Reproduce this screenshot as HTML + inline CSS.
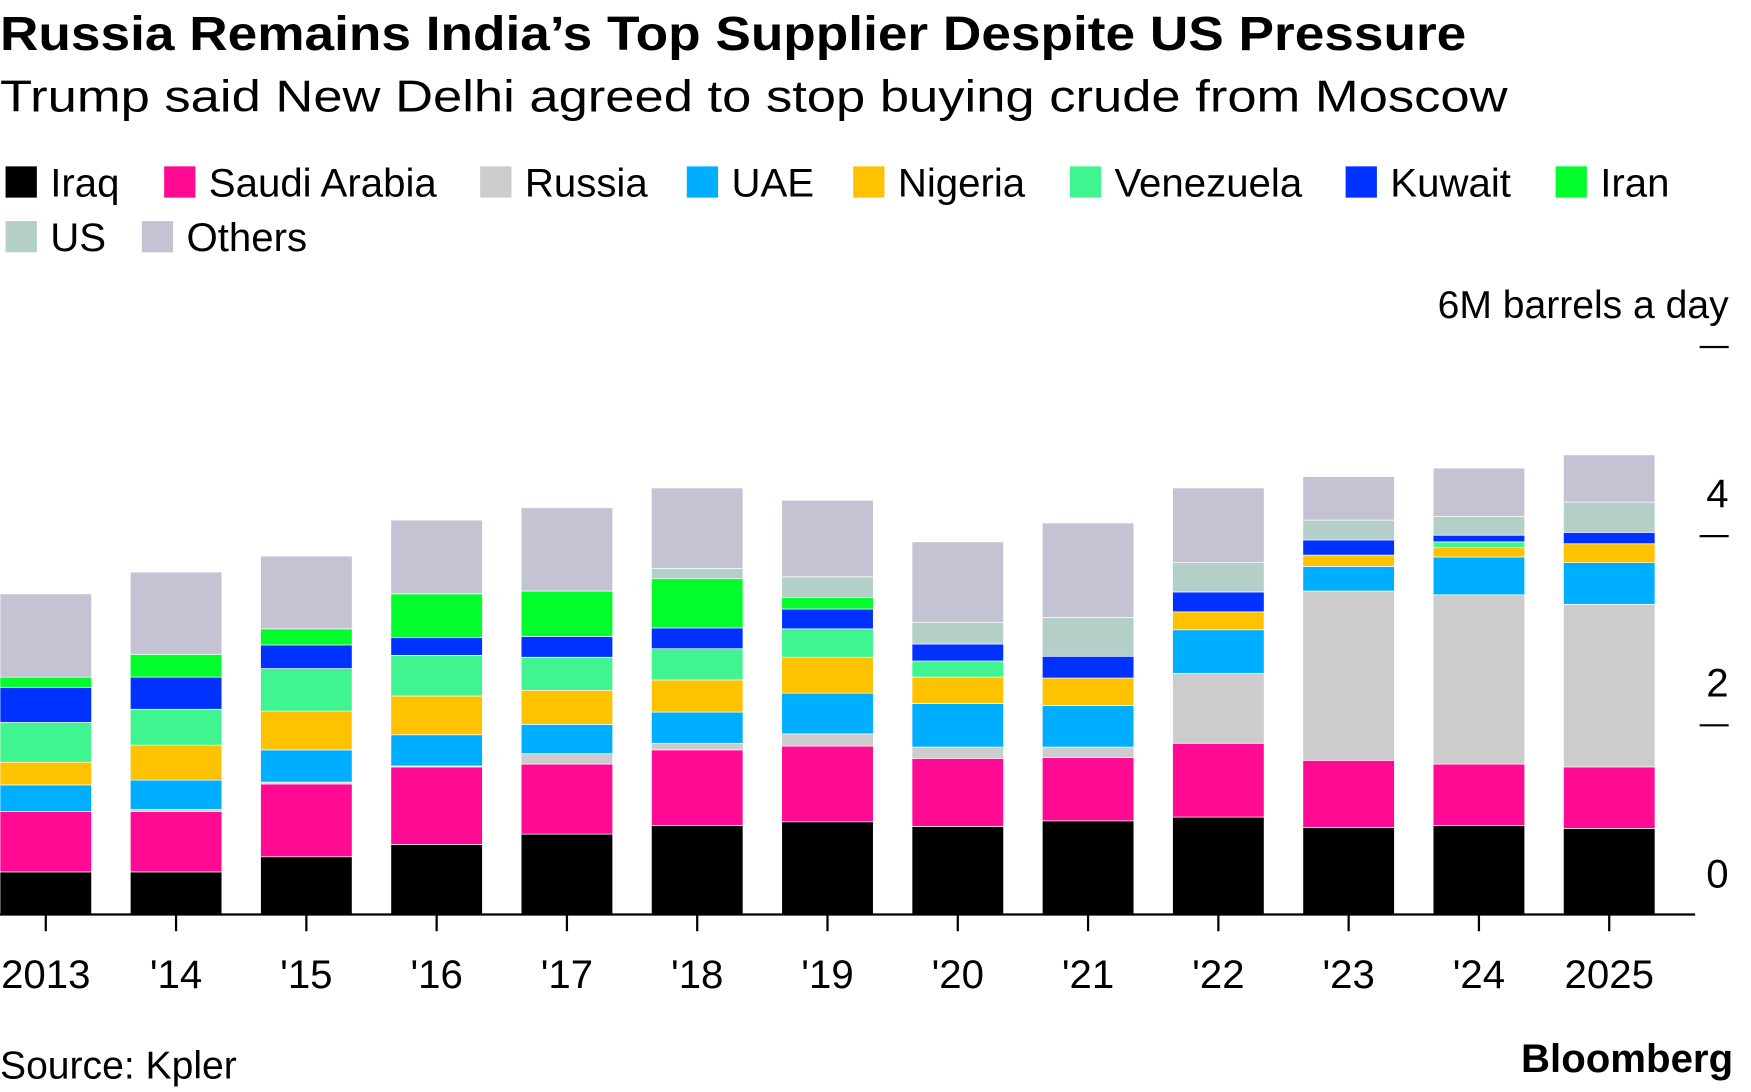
<!DOCTYPE html>
<html><head><meta charset="utf-8"><style>
html,body{margin:0;padding:0;background:#fff;}
svg{display:block;font-family:"Liberation Sans",Arial,sans-serif;}
</style></head><body>
<svg id="chart" width="1751" height="1092" viewBox="0 0 1568 978" preserveAspectRatio="none" xmlns="http://www.w3.org/2000/svg">
<text x="0" y="45" font-size="43" font-weight="bold" fill="#000" textLength="1313" lengthAdjust="spacingAndGlyphs">Russia Remains India’s Top Supplier Despite US Pressure</text>
<text x="0" y="100" font-size="40" fill="#000" textLength="1350" lengthAdjust="spacingAndGlyphs">Trump said New Delhi agreed to stop buying crude from Moscow</text>
<g id="legend"></g>
<text x="1548" y="285" font-size="35" text-anchor="end" fill="#000">6M barrels a day</text>
<g id="yaxis"></g>
<g id="bars"></g>
<g id="xaxis"></g>
<text x="0" y="966" font-size="35" fill="#000">Source: Kpler</text>
<text x="1552" y="960" font-size="36" font-weight="bold" text-anchor="end" fill="#000">Bloomberg</text>
</svg>
<script>
const categories = ["2013","'14","'15","'16","'17","'18","'19","'20","'21","'22","'23","'24","2025"];
const seriesNames = ["Iraq","Saudi Arabia","Russia","UAE","Nigeria","Venezuela","Kuwait","Iran","US","Others"];
const seriesColors = ["#000000","#ff0a93","#cccccc","#00aeff","#ffc200","#40f58f","#0032ff","#03fc2c","#b4cfc8","#c4c3d3"];
const iraq = [0.45,0.45,0.61,0.74,0.85,0.94,0.98,0.93,0.99,1.03,0.92,0.94,0.91];
const saudi = [0.64,0.64,0.77,0.82,0.74,0.80,0.80,0.72,0.67,0.78,0.71,0.65,0.65];
const russia = [0,0.02,0.02,0.01,0.11,0.07,0.13,0.12,0.11,0.74,1.79,1.79,1.72];
const uae = [0.28,0.31,0.34,0.33,0.31,0.33,0.43,0.46,0.44,0.46,0.26,0.40,0.44];
const nigeria = [0.24,0.37,0.41,0.41,0.36,0.34,0.38,0.28,0.29,0.19,0.12,0.10,0.20];
const venezuela = [0.42,0.38,0.45,0.43,0.35,0.33,0.30,0.17,0,0,0,0.06,0];
const kuwait = [0.37,0.34,0.25,0.19,0.22,0.22,0.21,0.18,0.23,0.21,0.16,0.07,0.12];
const iran = [0.11,0.24,0.17,0.46,0.48,0.52,0.12,0,0,0,0,0,0];
const us = [0,0,0,0,0,0.11,0.22,0.23,0.41,0.31,0.21,0.20,0.32];
const others = [0.88,0.87,0.77,0.78,0.88,0.85,0.81,0.85,1.00,0.79,0.46,0.51,0.50];
const yTicks = [0,2,4,6];
const yTickLabels = ["0","2","4",""];

const NS = "http://www.w3.org/2000/svg";
const series = [iraq,saudi,russia,uae,nigeria,venezuela,kuwait,iran,us,others];
const y = v => 819 - v * 84.7;
const xc = i => 41 + i * 116.67;
const barW = 82;
function mk(tag, attrs, parent){const e=document.createElementNS(NS,tag);for(const k in attrs)e.setAttribute(k,attrs[k]);parent.appendChild(e);return e;}

const legend = document.getElementById('legend');
const legPos = [[5,163],[147,163],[430,163],[615,163],[764,163],[958,163],[1205,163],[1393,163],[5,212],[127,212]];
seriesNames.forEach((n,i)=>{
  const g = mk('g',{},legend);
  
  
  const [lx,ly]=legPos[i];
  mk('rect',{x:lx,y:ly-14,width:28,height:28,fill:seriesColors[i]},g);
  const t = mk('text',{x:lx+40,y:ly+13,'font-size':36,fill:'#000'},g);
  t.textContent = n;
});

const ya = document.getElementById('yaxis');
yTicks.forEach((v,i)=>{
  if(v===0) return;
  const l = mk('line',{x1:1522,x2:1548,y1:y(v),y2:y(v),stroke:'#000','stroke-width':2},ya);
  
  
  if(yTickLabels[i]){
    const t = mk('text',{x:1548,y:y(v)-26,'font-size':36,'text-anchor':'end',fill:'#000'},ya);
    
    
    t.textContent = yTickLabels[i];
  }
});
const zl = mk('text',{x:1548,y:y(0)-24,'font-size':36,'text-anchor':'end',fill:'#000'},ya);


zl.textContent = yTickLabels[0];

const bars = document.getElementById('bars');
categories.forEach((c,i)=>{
  const g = mk('g',{},bars);
  
  
  let cum = 0;
  series.forEach((s,k)=>{
    const v = s[i];
    if(v<=0) return;
    const r = mk('rect',{x:xc(i)-barW/2,y:y(cum+v),width:barW,height:y(cum)-y(cum+v),fill:seriesColors[k],stroke:'#fff','stroke-width':0.6},g);
    
    
    cum += v;
  });
});

const xa = document.getElementById('xaxis');
const al = mk('line',{x1:0,x2:1518,y1:819,y2:819,stroke:'#000','stroke-width':2},xa);


categories.forEach((c,i)=>{
  const tk = mk('line',{x1:xc(i),x2:xc(i),y1:819,y2:834,stroke:'#000','stroke-width':2},xa);
  
  
  const t = mk('text',{x:xc(i),y:885,'font-size':36,'text-anchor':'middle',fill:'#000'},xa);
  
  
  t.textContent = c;
});
</script>
</body></html>
